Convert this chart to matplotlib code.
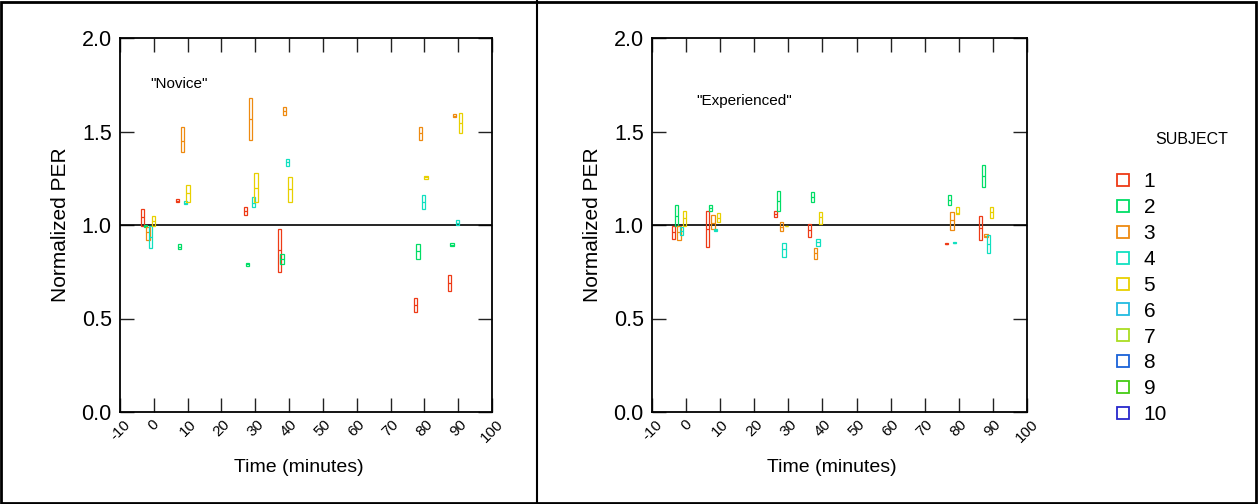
import matplotlib
matplotlib.use("Agg")
import matplotlib.pyplot as plt
from matplotlib.lines import Line2D
from matplotlib.patches import Rectangle

plt.rcParams['font.family'] = ['Liberation Sans', 'DejaVu Sans']

# subjects shown in the legend
subjects = ['1', '2', '3', '4', '5', '6', '7', '8', '9', '10']
subject_colors = ['#ee3a16', '#00dd66', '#ee8a10', '#10e0c0', '#e8d000',
                  '#22bbe0', '#aadd22', '#1a62d8', '#44cc14', '#2828cc']

# sampling times (minutes) of the five plotted subjects, one per session
novice_times = [-1.7, 8.5, 28.6, 38.7, 78.9, 89.0]
expert_times = [-2.1, 7.9, 27.9, 37.9, 78.0, 88.0]

# normalized PER, per subject (rows) and session (columns): low / median / high
novice_low = [
    [0.995, 1.125, 1.055, 0.750, 0.533, 0.649],
    [0.990, 0.873, 0.782, 0.791, 0.820, 0.889],
    [0.920, 1.390, 1.455, 1.590, 1.455, 1.576],
    [0.875, 1.110, 1.095, 1.317, 1.087, 0.998],
    [0.995, 1.125, 1.125, 1.125, 1.248, 1.493],
]
novice_med = [
    [1.043, 1.130, 1.075, 0.865, 0.571, 0.692],
    [0.995, 0.885, 0.790, 0.818, 0.859, 0.895],
    [0.961, 1.450, 1.565, 1.610, 1.490, 1.585],
    [0.937, 1.120, 1.120, 1.335, 1.125, 1.013],
    [1.021, 1.169, 1.200, 1.190, 1.255, 1.547],
]
novice_high = [
    [1.086, 1.138, 1.095, 0.977, 0.608, 0.731],
    [1.000, 0.897, 0.795, 0.845, 0.897, 0.902],
    [0.991, 1.524, 1.677, 1.630, 1.522, 1.593],
    [0.995, 1.130, 1.148, 1.353, 1.160, 1.027],
    [1.048, 1.214, 1.276, 1.255, 1.262, 1.597],
]

expert_low = [
    [0.927, 0.884, 1.041, 0.937, 0.898, 0.920],
    [0.995, 1.075, 1.073, 1.124, 1.107, 1.205],
    [0.918, 0.980, 0.966, 0.820, 0.973, 0.934],
    [0.948, 0.968, 0.831, 0.890, 0.903, 0.849],
    [0.995, 1.018, 0.993, 1.005, 1.060, 1.037],
]
expert_med = [
    [0.963, 0.980, 1.057, 0.973, 0.900, 0.984],
    [1.050, 1.090, 1.130, 1.150, 1.135, 1.264],
    [0.963, 1.009, 0.990, 0.850, 1.025, 0.943],
    [0.970, 0.972, 0.870, 0.908, 0.905, 0.898],
    [1.036, 1.038, 0.995, 1.043, 1.065, 1.070],
]
expert_high = [
    [0.995, 1.073, 1.073, 1.005, 0.902, 1.048],
    [1.105, 1.107, 1.183, 1.176, 1.160, 1.320],
    [0.995, 1.054, 1.016, 0.879, 1.070, 0.952],
    [0.988, 0.976, 0.902, 0.926, 0.907, 0.946],
    [1.073, 1.065, 0.997, 1.070, 1.098, 1.098],
]

x_ticks = list(range(-10, 101, 10))
y_ticks = [0.0, 0.5, 1.0, 1.5, 2.0]

W, H = 1258, 504
fig = plt.figure(figsize=(W / 100, H / 100), dpi=100)

DODGE = 0.8
BOX_W = 0.95


def draw_panel(ax, times, low, med, high, label, label_xy):
    for i in range(len(low)):
        xs = [t + (i - 2) * DODGE for t in times]
        heights = [h - l for h, l in zip(high[i], low[i])]
        ax.bar(xs, heights, bottom=low[i], width=BOX_W, fill=False,
               edgecolor=subject_colors[i], linewidth=0.9, zorder=3)
        ax.hlines(med[i], [x - BOX_W / 2 for x in xs], [x + BOX_W / 2 for x in xs],
                  color=subject_colors[i], linewidth=0.9, zorder=3)
    ax.axhline(1.0, color='black', linewidth=1.2, zorder=2)
    ax.set_xlim(-10, 100)
    ax.set_ylim(0, 2.0)
    ax.set_xticks(x_ticks)
    ax.set_xticklabels([str(t) for t in x_ticks], rotation=45, ha='center', fontsize=11)
    ax.set_yticks(y_ticks)
    ax.set_yticklabels(['%.1f' % v for v in y_ticks], fontsize=15.5)
    ax.tick_params(direction='in', top=True, right=True, length=10, width=1.0,
                   color='#222222')
    ax.tick_params(axis='x', pad=4)
    ax.tick_params(axis='y', pad=6)
    for s in ax.spines.values():
        s.set_linewidth(1.3)
    ax.set_xlabel('Time (minutes)', fontsize=14)
    ax.xaxis.set_label_coords(0.48, -0.125)
    ax.set_ylabel('Normalized PER', fontsize=15, labelpad=8)
    ax.text(label_xy[0], label_xy[1], label, fontsize=11, va='center', ha='left')


ax1 = fig.add_axes([120 / W, 1 - 412 / H, 372 / W, 374 / H])
draw_panel(ax1, novice_times, novice_low, novice_med, novice_high, '"Novice"', (-1.1, 1.755))

ax2 = fig.add_axes([652 / W, 1 - 412 / H, 375 / W, 374 / H])
draw_panel(ax2, expert_times, expert_low, expert_med, expert_high, '"Experienced"', (2.9, 1.663))

# legend
handles = [Line2D([], [], marker='s', linestyle='none', markersize=9,
                  markerfacecolor='white', markeredgecolor=c, markeredgewidth=1.3)
           for c in subject_colors]
fig.legend(handles, subjects, loc='upper left', bbox_to_anchor=(1104 / W, 1 - 164 / H),
           frameon=False, fontsize=15, handletextpad=0.5, labelspacing=0.33,
           handlelength=1.0, borderaxespad=0)
fig.text(1192 / W, 1 - 140 / H, 'SUBJECT', fontsize=11.5, ha='center', va='center')

# outer frame and divider
fig.add_artist(Rectangle((1 / W, 1 / H), 1 - 3 / W, 1 - 3 / H, transform=fig.transFigure,
                         fill=False, edgecolor='black', linewidth=2))
fig.add_artist(Line2D([537 / W, 537 / W], [0, 1], transform=fig.transFigure,
                      color='black', linewidth=1.5))

fig.savefig('out.png', dpi=100)
